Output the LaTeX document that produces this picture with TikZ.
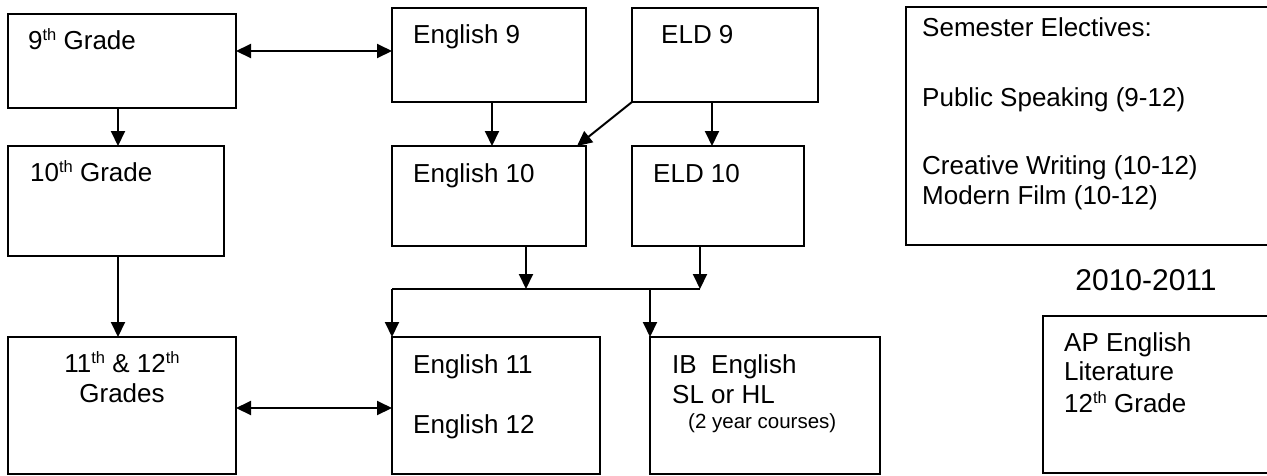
\documentclass[tikz,border=0pt]{standalone}
\usepackage{fontspec}
\setmainfont{Liberation Sans}
\usetikzlibrary{arrows.meta}

% superscript ordinal suffix
\newcommand{\ordsup}[1]{\raisebox{9pt}{\fontsize{16.5}{16.5}\selectfont #1}}

\begin{document}
\begin{tikzpicture}[x=1pt, y=-1pt,
  box/.style={draw, line width=2pt, rectangle, inner sep=0pt, outer sep=0pt, anchor=north west},
  lbl/.style={anchor=base west, inner sep=0pt, font=\fontsize{26}{30}\selectfont},
  clbl/.style={anchor=base, inner sep=0pt, font=\fontsize{26}{30}\selectfont},
  link/.style={line width=2pt, -{Triangle[length=15pt,width=14pt]}},
  dlink/.style={line width=2pt, {Triangle[length=15pt,width=14pt]}-{Triangle[length=15pt,width=14pt]}},
  plain/.style={line width=2pt}]
\useasboundingbox (0,0) rectangle (1267,475);

% grade boxes
\node[box, minimum width=228pt, minimum height=94pt] (g9) at (8,14) {};
\node[box, minimum width=216pt, minimum height=110pt] (g10) at (8,146) {};
\node[box, minimum width=228pt, minimum height=137pt] (g1112) at (8,337) {};

% course boxes
\node[box, minimum width=194pt, minimum height=94pt] (e9) at (392,8) {};
\node[box, minimum width=186pt, minimum height=94pt] (eld9) at (632,8) {};
\node[box, minimum width=194pt, minimum height=100pt] (e10) at (392,146) {};
\node[box, minimum width=172pt, minimum height=100pt] (eld10) at (632,146) {};
\node[box, minimum width=208pt, minimum height=137pt] (e1112) at (392,337) {};
\node[box, minimum width=230pt, minimum height=137pt] (ib) at (650,337) {};

% electives and AP boxes (run past the right edge)
\node[box, minimum width=384pt, minimum height=238pt] (sem) at (906,7) {};
\node[box, minimum width=247pt, minimum height=157pt] (ap) at (1043,316) {};

% labels
\node[lbl] (t9) at (28,49) {9\ordsup{th} Grade};
\node[lbl] (t10) at (30,181) {10\ordsup{th} Grade};
\node[clbl] (t1112a) at (122,372) {11\ordsup{th} \& 12\ordsup{th}};
\node[clbl] (t1112b) at (122,402) {Grades};

\node[lbl] (te9) at (413,43) {English 9};
\node[lbl] (teld9) at (661,43) {ELD 9};
\node[lbl] (te10) at (413,182) {English 10};
\node[lbl] (teld10) at (653,182) {ELD 10};
\node[lbl] (te11) at (413,373) {English 11};
\node[lbl] (te12) at (413,433) {English 12};
\node[lbl] (tib1) at (672,373) {IB\ \ English};
\node[lbl] (tib2) at (672,403) {SL or HL};
\node[lbl, font=\fontsize{20.5}{24}\selectfont] (tib3) at (688,428) {(2 year courses)};

\node[lbl] (ts1) at (922,36) {Semester Electives:};
\node[lbl] (ts2) at (922,106) {Public Speaking (9-12)};
\node[lbl] (ts3) at (922,174) {Creative Writing (10-12)};
\node[lbl] (ts4) at (922,204) {Modern Film (10-12)};

\node[clbl, font=\fontsize{30}{34}\selectfont] (year) at (1146,290) {2010-2011};

\node[lbl] (ta1) at (1064,351) {AP English};
\node[lbl] (ta2) at (1064,380) {Literature};
\node[lbl] (ta3) at (1064,412) {12\ordsup{th} Grade};

% connectors
\draw[dlink] (g9.east |- 0,51) -- (e9.west |- 0,51);
\draw[link] (g9.south -| 118,0) -- (g10.north -| 118,0);
\draw[link] (g10.south -| 118,0) -- (g1112.north -| 118,0);
\draw[dlink] (g1112.east |- 0,408) -- (e1112.west |- 0,408);

\draw[link] (e9.south -| 492,0) -- (e10.north -| 492,0);
\draw[link] (eld9.south west) -- (e10.north -| 577,0);
\draw[link] (eld9.south -| 712,0) -- (eld10.north -| 712,0);

\coordinate (jl) at (392,289);
\coordinate (jm) at (526,289);
\coordinate (jib) at (650,289);
\coordinate (jr) at (700,289);
\draw[link] (e10.south -| jm) -- (jm);
\draw[link] (eld10.south -| jr) -- (jr);
\draw[plain] (jr) -- (jl);
\draw[link] (jl) -- (e1112.north west);
\draw[link] (jib) -- (ib.north west);
\end{tikzpicture}
\end{document}
